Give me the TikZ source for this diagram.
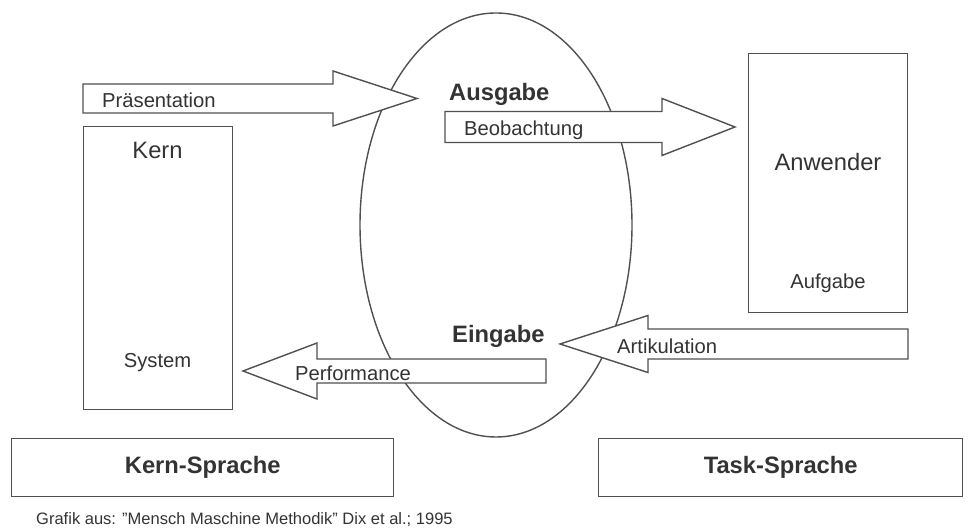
\documentclass[tikz,border=0pt]{standalone}
\usepackage{fontspec}
\setmainfont{Liberation Sans}
\usepackage{tikz}
\usetikzlibrary{positioning}
\definecolor{linegray}{HTML}{505050}
\definecolor{textgray}{HTML}{333333}

\begin{document}
\begin{tikzpicture}[text=textgray]

\useasboundingbox (0,0) rectangle (19.36,10.6);

% interface
\draw[linegray, thick] (9.92,6.1) ellipse (2.72cm and 4.24cm);

% system and user
\node at (1.66,2.4) [rectangle, draw=linegray, thick, fill=white, minimum width = 2.98cm, minimum height = 5.66cm, anchor=south west] (kern) {};
\node at (3.15,7.6) (kernlabel) {\fontsize{13.5}{16}\selectfont Kern};
\node at (3.15,3.34) (system) {\fontsize{11.5}{14}\selectfont System};

\node at (14.96,4.34) [rectangle, draw=linegray, thick, fill=white, minimum width = 3.18cm, minimum height = 5.18cm, anchor=south west] (anwender) {};
\node at (16.56,7.36) (anwenderlabel) {\fontsize{13.5}{16}\selectfont Anwender};
\node at (16.56,4.94) (aufgabe) {\fontsize{11.5}{14}\selectfont Aufgabe};

% block arrows
\draw[linegray, thick, fill=white] (1.66,8.34) -- (6.66,8.34) -- (6.66,8.08) -- (8.34,8.63) -- (6.66,9.18) -- (6.66,8.92) -- (1.66,8.92) -- cycle;
\node at (1.92,8.6) [anchor=west] (praes) {\fontsize{11.5}{14}\selectfont Präsentation};

\draw[linegray, thick, fill=white] (8.9,7.75) -- (13.24,7.75) -- (13.24,7.49) -- (14.7,8.06) -- (13.24,8.63) -- (13.24,8.37) -- (8.9,8.37) -- cycle;
\node at (9.16,8.0) [anchor=west] (beob) {\fontsize{11.5}{14}\selectfont Beobachtung};

\draw[linegray, thick, fill=white] (10.92,2.94) -- (6.34,2.94) -- (6.34,2.62) -- (4.86,3.18) -- (6.34,3.74) -- (6.34,3.42) -- (10.92,3.42) -- cycle;
\node at (5.78,3.14) [anchor=west] (perf) {\fontsize{11.5}{14}\selectfont Performance};

\draw[linegray, thick, fill=white] (18.16,3.42) -- (12.96,3.42) -- (12.96,3.15) -- (11.2,3.72) -- (12.96,4.29) -- (12.96,4.02) -- (18.16,4.02) -- cycle;
\node at (12.22,3.68) [anchor=west] (artik) {\fontsize{11.5}{14}\selectfont Artikulation};

\node at (8.86,8.72) [anchor=west] (ausgabe) {\fontsize{13.5}{16}\selectfont\bfseries Ausgabe};
\node at (8.92,3.88) [anchor=west] (eingabe) {\fontsize{13.5}{16}\selectfont\bfseries Eingabe};

% languages
\node at (0.22,0.66) [rectangle, draw=linegray, thick, fill=white, minimum width = 7.64cm, minimum height = 1.16cm, anchor=south west] (kernsprache) {\fontsize{13.5}{16}\selectfont\bfseries Kern-Sprache};
\node at (11.96,0.66) [rectangle, draw=linegray, thick, fill=white, minimum width = 7.28cm, minimum height = 1.16cm, anchor=south west] (tasksprache) {\fontsize{13.5}{16}\selectfont\bfseries Task-Sprache};

\node at (0.6,0.2) [anchor=west] (quelle) {\fontsize{9.4}{11}\selectfont Grafik aus: "Mensch Maschine Methodik" Dix et al.; 1995};

\end{tikzpicture}
\end{document}
